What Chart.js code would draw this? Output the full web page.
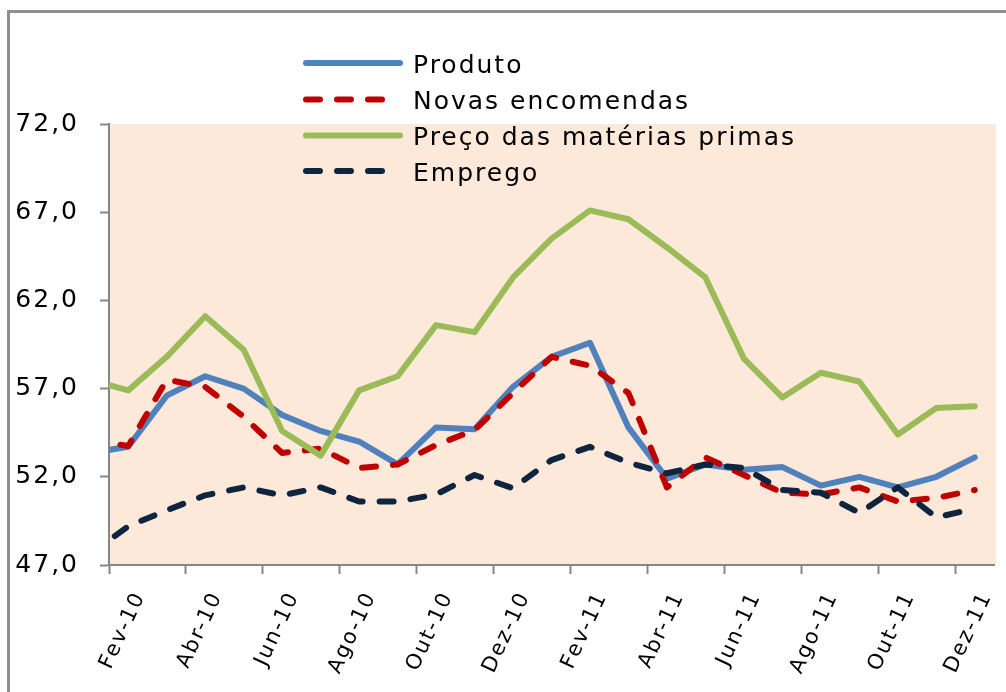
<!DOCTYPE html>
<html>
<head>
<meta charset="utf-8">
<script src="https://cdn.jsdelivr.net/npm/chart.js@4.4.1/dist/chart.umd.min.js"></script>
<style>
  html, body { margin: 0; padding: 0; background: #ffffff; }
  #wrap { position: relative; width: 1006px; height: 692px; overflow: hidden; }
  #frame { position: absolute; left: 7px; top: 10px; width: 1100px; height: 800px;
           border-top: 3px solid #8e8e8e; border-left: 3px solid #8e8e8e; }
  canvas { position: absolute; left: 0; top: 0; }
</style>
</head>
<body>
<div id="wrap">
  <div id="frame"></div>
  <canvas id="c" width="1006" height="692"></canvas>
</div>
<script>
// ---- Data ----
const months = ['Jan-10','Fev-10','Mar-10','Abr-10','Mai-10','Jun-10','Jul-10','Ago-10','Set-10','Out-10','Nov-10','Dez-10',
                'Jan-11','Fev-11','Mar-11','Abr-11','Mai-11','Jun-11','Jul-11','Ago-11','Set-11','Out-11','Nov-11','Dez-11'];
const firstShown = 'Fev-10';
const seriesNames = ['Produto', 'Novas encomendas', 'Preço das matérias primas', 'Emprego'];
const produto  = [53.35, 53.7, 56.6, 57.7, 57.0, 55.5, 54.6, 54.0, 52.7, 54.8, 54.7, 57.1,
                  58.8, 59.6, 54.8, 51.9, 52.7, 52.4, 52.55, 51.5, 52.0, 51.4, 52.0, 53.1];
const novasEncomendas = [54.1, 53.75, 57.5, 57.1, 55.4, 53.35, 53.6, 52.5, 52.7, 53.8, 54.65, 56.75,
                  58.8, 58.3, 56.75, 51.4, 53.1, 52.1, 51.1, 51.0, 51.4, 50.6, 50.8, 51.25];
const precoMateriasPrimas = [57.5, 56.9, 58.8, 61.1, 59.2, 54.6, 53.2, 56.9, 57.7, 60.6, 60.2, 63.3,
                  65.5, 67.1, 66.6, 65.0, 63.3, 58.7, 56.5, 57.9, 57.4, 54.4, 55.9, 56.0];
const emprego  = [47.6, 49.2, 50.1, 50.95, 51.4, 50.95, 51.4, 50.6, 50.6, 51.0, 52.1, 51.35,
                  52.95, 53.7, 52.8, 52.2, 52.7, 52.5, 51.25, 51.1, 49.95, 51.4, 49.7, 50.2];
const yMin = 47, yMax = 72, yStep = 5;

// ---- Styles ----
const FONT = '"DejaVu Sans", sans-serif';
const AXIS_GRAY = '#868686';
const colors = ['#4F81BD', '#C00000', '#9BBB59', '#0F243E'];
const dashes = [[], [14, 17], [], [14, 17]];

const spacingPlugin = {
  id: 'spacing',
  beforeUpdate(chart) { chart.ctx.letterSpacing = '2px'; },
  beforeDraw(chart) { chart.ctx.letterSpacing = '2px'; }
};

const bgPlugin = {
  id: 'plotBg',
  beforeDraw(chart) {
    const {ctx, chartArea: a} = chart;
    ctx.save();
    ctx.fillStyle = '#FDE9D9';
    ctx.fillRect(a.left, a.top, a.right - a.left + 2, a.bottom - a.top);
    ctx.restore();
  }
};

const legendPlugin = {
  id: 'customLegend',
  afterDraw(chart) {
    const ctx = chart.ctx;
    ctx.save();
    ctx.letterSpacing = '2px';
    const rows = [63, 99.5, 135.5, 171];
    chart.data.datasets.forEach((ds, i) => {
      const y = rows[i];
      ctx.beginPath();
      ctx.lineWidth = 6;
      ctx.lineCap = 'round';
      ctx.strokeStyle = ds.borderColor;
      ctx.setLineDash(ds.borderDash || []);
      ctx.moveTo(306, y);
      ctx.lineTo(ds.borderDash && ds.borderDash.length ? 390 : 400, y);
      ctx.stroke();
      ctx.setLineDash([]);
      ctx.fillStyle = '#000000';
      ctx.font = '25px ' + FONT;
      ctx.textAlign = 'left';
      ctx.textBaseline = 'middle';
      ctx.fillText(ds.label, 413, y + 3);
    });
    ctx.restore();
  }
};

const datasets = [produto, novasEncomendas, precoMateriasPrimas, emprego].map((vals, i) => ({
  label: seriesNames[i],
  data: vals,
  borderColor: colors[i],
  backgroundColor: colors[i],
  borderWidth: 6,
  borderDash: dashes[i],
  borderCapStyle: 'round',
  borderJoinStyle: 'round',
  pointRadius: 0,
  pointHoverRadius: 0,
  tension: 0,
  fill: false,
  clip: 0,
  order: 4 - i
}));

new Chart(document.getElementById('c'), {
  type: 'line',
  data: { labels: months, datasets },
  plugins: [spacingPlugin, bgPlugin, legendPlugin],
  options: {
    responsive: false,
    animation: false,
    events: [],
    layout: { padding: { top: 124, right: 12, bottom: 0, left: 0 } },
    plugins: { legend: { display: false }, tooltip: { enabled: false }, title: { display: false } },
    scales: {
      x: {
        type: 'category',
        min: firstShown,
        offset: true,
        grid: {
          offset: true,
          drawOnChartArea: false,
          drawTicks: true,
          tickLength: 9,
          tickWidth: 2,
          tickColor: (c) => (c.tick && c.tick.value % 2 === 1) ? AXIS_GRAY : 'rgba(0,0,0,0)'
        },
        border: { display: true, color: AXIS_GRAY, width: 2 },
        ticks: {
          autoSkip: false,
          minRotation: 65,
          maxRotation: 65,
          padding: 14,
          labelOffset: 12,
          color: '#000000',
          font: { family: FONT, size: 21 },
          callback: function (value) { return value % 2 === 1 ? this.getLabelForValue(value) : ''; }
        },
        afterFit: (s) => { s.height = 127; s.paddingLeft = 0; s.paddingRight = 0; }
      },
      y: {
        min: yMin,
        max: yMax,
        grid: {
          drawOnChartArea: false,
          drawTicks: true,
          tickLength: 9,
          tickWidth: 2,
          tickColor: AXIS_GRAY
        },
        border: { display: true, color: AXIS_GRAY, width: 2 },
        ticks: {
          stepSize: yStep,
          padding: 21,
          color: '#000000',
          font: { family: FONT, size: 25 },
          callback: (v) => v.toFixed(1).replace('.', ',')
        },
        afterFit: (s) => { s.width = 109; s.paddingTop = 0; s.paddingBottom = 0; }
      }
    }
  }
});
</script>
</body>
</html>
